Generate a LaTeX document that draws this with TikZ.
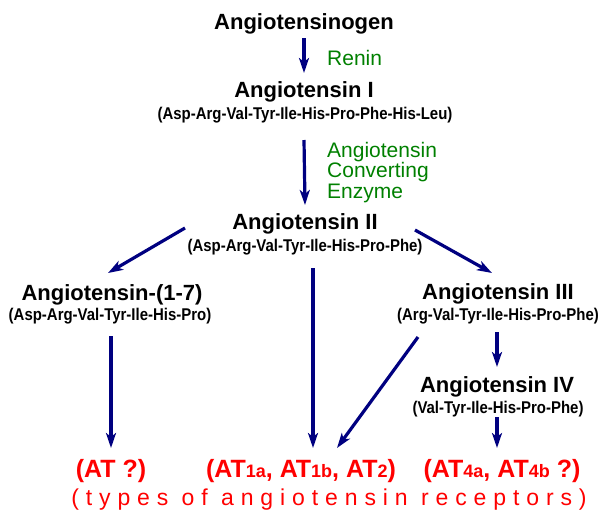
\documentclass[tikz,border=0pt]{standalone}
\usepackage{fontspec}
\setmainfont{Liberation Sans}
\newfontfamily\seqfont[FakeStretch=0.88]{Liberation Sans}
\newfontfamily\typesfont[LetterSpace=30]{Liberation Sans}
\usetikzlibrary{arrows.meta}
\definecolor{arrowblue}{RGB}{0,0,128}
\definecolor{enzgreen}{RGB}{0,128,0}
\definecolor{recred}{RGB}{255,0,0}
\tikzset{
  peptide/.style={anchor=base, inner sep=0pt, font=\fontsize{22}{26}\selectfont\bfseries},
  seqtext/.style={anchor=base, inner sep=0pt, font=\seqfont\fontsize{17}{20}\selectfont\bfseries},
  enzyme/.style={anchor=base west, inner sep=0pt, text=enzgreen, font=\fontsize{21}{24}\selectfont},
  receptor/.style={anchor=base, inner sep=0pt, text=recred, font=\fontsize{25}{30}\selectfont\bfseries},
  reaction/.style={draw=arrowblue, line width=3.2pt, -{Stealth[length=15pt,width=10pt,inset=4pt]}}
}
\newcommand{\subat}[1]{{\fontsize{18}{20}\selectfont #1}}
\begin{document}
\begin{tikzpicture}[x=1pt,y=1pt]
  \useasboundingbox (0,0) rectangle (602,-515);

  \node[peptide] (agen) at (304,-29.5) {Angiotensinogen};
  \node[enzyme] (renin) at (327,-65) {Renin};
  \node[peptide] (ang1) at (304,-97) {Angiotensin I};
  \node[seqtext] (seq1) at (305,-119.5) {(Asp-Arg-Val-Tyr-Ile-His-Pro-Phe-His-Leu)};

  \node[enzyme] (ace1) at (327,-157) {Angiotensin};
  \node[enzyme] (ace2) at (327,-177.5) {Converting};
  \node[enzyme] (ace3) at (327,-198) {Enzyme};

  \node[peptide] (ang2) at (305,-229) {Angiotensin II};
  \node[seqtext] (seq2) at (305,-251) {(Asp-Arg-Val-Tyr-Ile-His-Pro-Phe)};

  \node[peptide] (ang17) at (112,-300) {Angiotensin-(1-7)};
  \node[seqtext] (seq17) at (110,-320) {(Asp-Arg-Val-Tyr-Ile-His-Pro)};

  \node[peptide] (ang3) at (498,-299) {Angiotensin III};
  \node[seqtext] (seq3) at (498,-320) {(Arg-Val-Tyr-Ile-His-Pro-Phe)};
  \node[peptide] (ang4) at (497,-392) {Angiotensin IV};
  \node[seqtext] (seq4) at (498,-413) {(Val-Tyr-Ile-His-Pro-Phe)};

  \node[receptor] (rat) at (111,-477) {(AT ?)};
  \node[receptor] (rat12) at (301,-477) {(AT\subat{1a}, AT\subat{1b}, AT\subat{2})};
  \node[receptor] (rat4) at (502,-477) {(AT\subat{4a}, AT\subat{4b} ?)};
  \node[receptor, font=\typesfont\fontsize{23}{27}\selectfont] (types) at (329,-505) {(types of angiotensin receptors)};

  \draw[reaction] ([shift={(0,-8.5)}]agen.base) -- ([shift={(0,24)}]ang1.base);
  \draw[reaction] ([shift={(-1,-20.5)}]seq1.base) -- ([shift={(0,24)}]ang2.base);
  \draw[reaction] ([shift={(-120,23)}]seq2.base) -- ([shift={(-4,27)}]ang17.base);
  \draw[reaction] ([shift={(8,-17)}]seq2.base) -- ([shift={(12,29)}]rat12.base);
  \draw[reaction] ([shift={(110,21)}]seq2.base) -- ([shift={(-6,26)}]ang3.base);
  \draw[reaction] ([shift={(-80,-17)}]seq3.base) -- ([shift={(36,29)}]rat12.base);
  \draw[reaction] ([shift={(-1,-12)}]seq3.base) -- ([shift={(0,25)}]ang4.base);
  \draw[reaction] ([shift={(1,-16)}]seq17.base) -- ([shift={(0,29)}]rat.base);
  \draw[reaction] ([shift={(-1,-4)}]seq4.base) -- ([shift={(-5,29)}]rat4.base);
\end{tikzpicture}
\end{document}
